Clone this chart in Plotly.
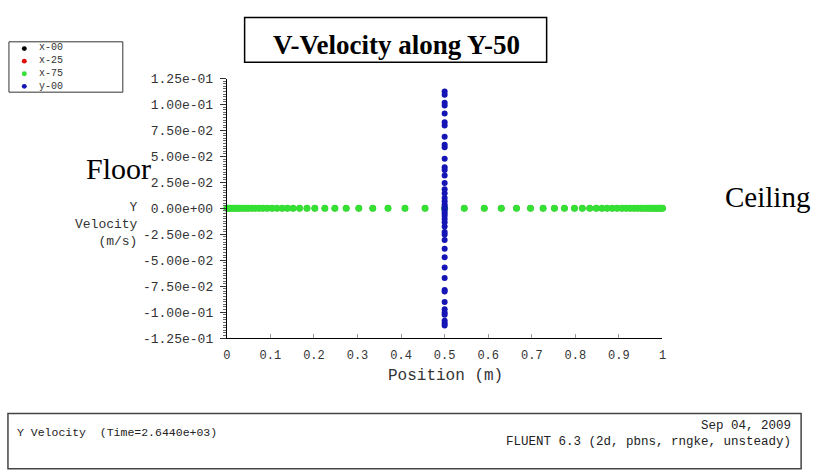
import plotly.graph_objects as go

W, H = 817, 472

# ---------------- data ----------------
series_names = ["x-00", "x-25", "x-75", "y-00"]
series_colors = ["#000000", "#e01010", "#33e033", "#1515b5"]

position_line = [0.0, 0.004, 0.008, 0.013, 0.018, 0.023, 0.029, 0.035, 0.042, 0.049,
                 0.057, 0.065, 0.074, 0.083, 0.093, 0.104, 0.115, 0.127, 0.139, 0.152,
                 0.167, 0.184, 0.202, 0.225, 0.248, 0.274, 0.303, 0.335, 0.370, 0.409,
                 0.455, 0.500, 0.545, 0.591, 0.630, 0.665, 0.697, 0.726, 0.752, 0.775,
                 0.798, 0.816, 0.833, 0.848, 0.861, 0.873, 0.885, 0.896, 0.907, 0.917,
                 0.926, 0.935, 0.943, 0.951, 0.958, 0.965, 0.971, 0.977, 0.982, 0.987,
                 0.992, 0.996, 1.0]
velocity_line = [0.0, 0.0, 0.0, 0.0, 0.0, 0.0, 0.0, 0.0, 0.0, 0.0,
                 0.0, 0.0, 0.0, 0.0, 0.0, 0.0, 0.0, 0.0, 0.0, 0.0,
                 0.0, 0.0, 0.0, 0.0, 0.0, 0.0, 0.0, 0.0, 0.0, 0.0,
                 0.0, 0.0, 0.0, 0.0, 0.0, 0.0, 0.0, 0.0, 0.0, 0.0,
                 0.0, 0.0, 0.0, 0.0, 0.0, 0.0, 0.0, 0.0, 0.0, 0.0,
                 0.0, 0.0, 0.0, 0.0, 0.0, 0.0, 0.0, 0.0, 0.0, 0.0,
                 0.0, 0.0, 0.0]

velocity_y00 = [0.1126, 0.1094, 0.1017, 0.0992, 0.0914, 0.0830, 0.0799, 0.0690, 0.0613,
                0.0588, 0.0479, 0.0395, 0.0370, 0.0317, 0.0245, 0.0184, 0.0146, 0.0100,
                0.0068, 0.0037, 0.0016, -0.0003, -0.0025, -0.0047, -0.0072, -0.0103,
                -0.0134, -0.0175, -0.0227, -0.0252, -0.0305, -0.0389, -0.0470, -0.0569,
                -0.0672, -0.0786, -0.0802, -0.0902, -0.0973, -0.1005, -0.1026, -0.1082,
                -0.1107, -0.1129]
position_y00 = [0.5, 0.5, 0.5, 0.5, 0.5, 0.5, 0.5, 0.5, 0.5, 0.5, 0.5,
                0.5, 0.5, 0.5, 0.5, 0.5, 0.5, 0.5, 0.5, 0.5, 0.5, 0.5,
                0.5, 0.5, 0.5, 0.5, 0.5, 0.5, 0.5, 0.5, 0.5, 0.5, 0.5,
                0.5, 0.5, 0.5, 0.5, 0.5, 0.5, 0.5, 0.5, 0.5, 0.5, 0.5]

x_tickvals = [0, 0.1, 0.2, 0.3, 0.4, 0.5, 0.6, 0.7, 0.8, 0.9, 1]
x_ticktext = ["0", "0.1", "0.2", "0.3", "0.4", "0.5", "0.6", "0.7", "0.8", "0.9", "1"]
y_tickvals = [0.125, 0.1, 0.075, 0.05, 0.025, 0.0, -0.025, -0.05, -0.075, -0.1, -0.125]
y_ticktext = ["1.25e-01", "1.00e-01", "7.50e-02", "5.00e-02", "2.50e-02", "0.00e+00",
              "-2.50e-02", "-5.00e-02", "-7.50e-02", "-1.00e-01", "-1.25e-01"]

# --------------- helpers (pixel -> paper) ---------------
def PX(x):
    return x / W

def PY(y):
    return 1 - y / H

MONO = "Liberation Mono"
SERIF = "Liberation Serif"

fig = go.Figure()

series_x = [position_line, position_line, position_line, position_y00]
series_y = [velocity_line, velocity_line, velocity_line, velocity_y00]
series_size = [6, 6, 7, 6]
for name, col, xs, ys, sz in zip(series_names, series_colors, series_x, series_y, series_size):
    fig.add_trace(go.Scatter(x=xs, y=ys, mode="markers", name=name,
                             marker=dict(color=col, size=sz, line=dict(width=0)),
                             cliponaxis=False, showlegend=False))

fig.update_layout(
    width=W, height=H,
    margin=dict(l=0, r=0, t=0, b=0),
    paper_bgcolor="white", plot_bgcolor="white",
    showlegend=False,
    xaxis=dict(domain=[PX(225), PX(665)], range=[0, 1],
               showline=True, linecolor="black", linewidth=1,
               showgrid=False, zeroline=False,
               ticks="inside", ticklen=4, tickcolor="#999",
               tickvals=x_tickvals, ticktext=x_ticktext,
               tickfont=dict(family=MONO, size=12, color="#333"),
               ticklabelstandoff=6),
    yaxis=dict(domain=[PY(343), PY(75)], range=[-0.125, 0.125],
               showline=True, linecolor="black", linewidth=1,
               showgrid=False, zeroline=False,
               ticks="outside", ticklen=6, tickcolor="#333",
               tickvals=y_tickvals, ticktext=y_ticktext,
               tickfont=dict(family=MONO, size=13, color="#333"),
               ticklabelstandoff=4,
               minor=dict(ticks="outside", ticklen=3, dtick=0.0025, tickcolor="#666",
                          showgrid=False)),
)

shapes = []
annotations = []

# title box
shapes.append(dict(type="rect", xref="paper", yref="paper",
                   x0=PX(243), x1=PX(548), y0=PY(58), y1=PY(12),
                   line=dict(color="black", width=1.5), fillcolor="white", layer="below"))
annotations.append(dict(xref="paper", yref="paper", x=PX(396), y=PY(40),
                        text="<b>V-Velocity along Y-50</b>", showarrow=False,
                        xanchor="center", yanchor="middle",
                        font=dict(family=SERIF, size=27, color="black")))

# legend box
shapes.append(dict(type="rect", xref="paper", yref="paper",
                   x0=PX(5), x1=PX(120), y0=PY(89), y1=PY(37),
                   line=dict(color="#333", width=1), fillcolor="white", layer="below"))
leg_y = [44, 57, 70, 83]
for name, col, yy in zip(series_names, series_colors, leg_y):
    shapes.append(dict(type="circle", xref="paper", yref="paper",
                       x0=PX(18), x1=PX(23), y0=PY(yy + 2.5), y1=PY(yy - 2.5),
                       line=dict(color=col, width=0), fillcolor=col))
annotations.append(dict(xref="paper", yref="paper", x=PX(33), y=PY(63.5),
                        text="<br>".join(series_names), showarrow=False,
                        xanchor="left", yanchor="middle", align="left",
                        font=dict(family=MONO, size=10, color="#333")))

# y axis title
annotations.append(dict(xref="paper", yref="paper", x=PX(137), y=PY(226),
                        text="Y<br>Velocity<br>(m/s)", showarrow=False,
                        xanchor="right", yanchor="middle", align="right",
                        font=dict(family=MONO, size=13, color="#333")))

# x axis title
annotations.append(dict(xref="paper", yref="paper", x=PX(446), y=PY(382),
                        text="Position (m)", showarrow=False, xanchor="center", yanchor="middle",
                        font=dict(family=MONO, size=16, color="#333")))

# Floor / Ceiling
annotations.append(dict(xref="paper", yref="paper", x=PX(81), y=PY(168),
                        text="Floor", showarrow=False, xanchor="left", yanchor="middle",
                        font=dict(family=SERIF, size=30, color="black")))
annotations.append(dict(xref="paper", yref="paper", x=PX(726), y=PY(197),
                        text="Ceiling", showarrow=False, xanchor="left", yanchor="middle",
                        font=dict(family=SERIF, size=29, color="black")))

# bottom info box
shapes.append(dict(type="rect", xref="paper", yref="paper",
                   x0=PX(4), x1=PX(805), y0=PY(478), y1=PY(421),
                   line=dict(color="#444", width=1.5), fillcolor="white", layer="below"))
annotations.append(dict(xref="paper", yref="paper", x=PX(11), y=PY(441),
                        text="Y Velocity  (Time=2.6440e+03)", showarrow=False,
                        xanchor="left", yanchor="middle",
                        font=dict(family=MONO, size=11.5, color="#222")))
annotations.append(dict(xref="paper", yref="paper", x=PX(797), y=PY(442.5),
                        text="Sep 04, 2009<br>FLUENT 6.3 (2d, pbns, rngke, unsteady)",
                        showarrow=False, xanchor="right", yanchor="middle", align="right",
                        font=dict(family=MONO, size=12.5, color="#222")))

fig.update_layout(shapes=shapes, annotations=annotations)

fig.write_html("out.html")
